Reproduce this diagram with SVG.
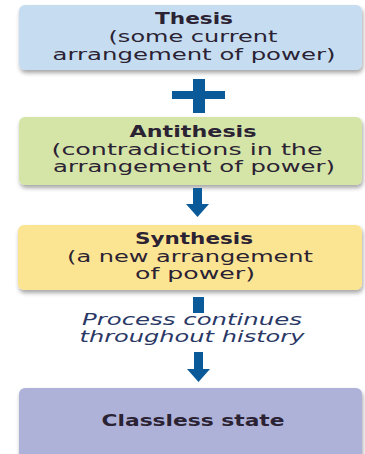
<svg xmlns="http://www.w3.org/2000/svg" width="365" height="454" viewBox="0 0 365 454">
<defs>
<filter id="sh" x="-10%" y="-20%" width="120%" height="150%">
<feDropShadow dx="1" dy="3" stdDeviation="2" flood-color="#000" flood-opacity="0.35"/>
</filter>
</defs>
<style>
.box{filter:url(#sh)}
.t{font-family:"DejaVu Sans","Liberation Sans",sans-serif;font-size:15px;fill:#2b2233;text-anchor:middle}
.b{font-weight:bold}
.i{font-style:italic;fill:#2a3866}
.ar{fill:#0a5a99}
</style>
<rect width="365" height="454" fill="#ffffff"/>
<g id="thesis">
<rect class="box" x="19" y="5" width="343" height="65" rx="6" fill="#c6ddf1"/>
<text class="t b" x="194" y="24" textLength="78" lengthAdjust="spacingAndGlyphs">Thesis</text>
<text class="t" x="193" y="42" textLength="169" lengthAdjust="spacingAndGlyphs">(some current</text>
<text class="t" x="194" y="60" textLength="283" lengthAdjust="spacingAndGlyphs">arrangement of power)</text>
</g>
<g id="antithesis">
<rect class="box" x="19" y="117" width="343" height="68" rx="6" fill="#d5e5a8"/>
<text class="t b" x="193" y="137" textLength="127" lengthAdjust="spacingAndGlyphs">Antithesis</text>
<text class="t" x="187" y="155" textLength="271" lengthAdjust="spacingAndGlyphs">(contradictions in the</text>
<text class="t" x="194" y="172" textLength="282" lengthAdjust="spacingAndGlyphs">arrangement of power)</text>
</g>
<g id="synthesis">
<rect class="box" x="18" y="225" width="344" height="65" rx="6" fill="#fce592"/>
<text class="t b" x="194" y="244" textLength="118" lengthAdjust="spacingAndGlyphs">Synthesis</text>
<text class="t" x="190" y="262" textLength="246" lengthAdjust="spacingAndGlyphs">(a new arrangement</text>
<text class="t" x="195" y="279" textLength="120" lengthAdjust="spacingAndGlyphs">of power)</text>
</g>
<g id="classless">
<rect class="box" x="19" y="388" width="343" height="74" rx="6" fill="#aeb2d9"/>
<text class="t b" x="193" y="426" textLength="183" lengthAdjust="spacingAndGlyphs">Classless state</text>
</g>
<g id="note">
<text class="t i" x="192" y="325" textLength="220" lengthAdjust="spacingAndGlyphs">Process continues</text>
<text class="t i" x="192" y="342" textLength="225" lengthAdjust="spacingAndGlyphs">throughout history</text>
</g>
<g id="connectors">
<rect class="ar" x="172" y="91" width="53" height="8"/>
<rect class="ar" x="193" y="79" width="12" height="34"/>
<polygon class="ar" points="193,188 202,188 202,204 209,204 197.5,217 186,204 193,204"/>
<rect class="ar" x="193" y="297" width="11" height="16"/>
<polygon class="ar" points="194,352 203,352 203,369 210,369 198.5,382 187,369 194,369"/>
</g>
</svg>
